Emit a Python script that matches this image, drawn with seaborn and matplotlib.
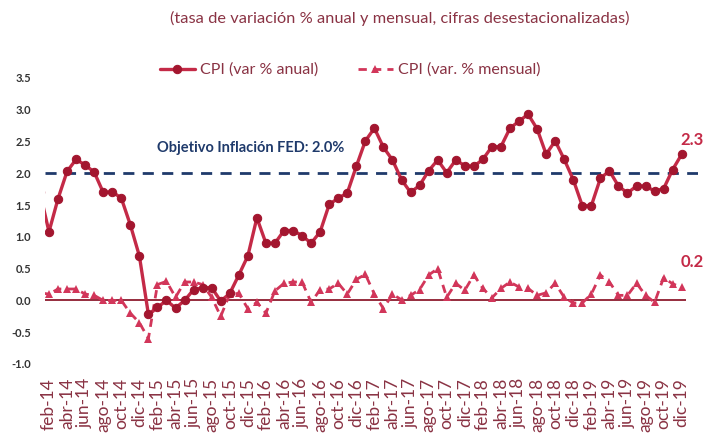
import matplotlib
matplotlib.use("Agg")
import matplotlib.pyplot as plt
import numpy as np
import pandas as pd
import seaborn as sns

months_es = ["ene", "feb", "mar", "abr", "may", "jun", "jul", "ago", "sep", "oct", "nov", "dic"]
years = ["14", "15", "16", "17", "18", "19"]
periods = [f"{m}-{y}" for y in years for m in months_es]

cpi_anual = [
    1.70, 1.08, 1.60, 2.03, 2.22, 2.13, 2.02, 1.70, 1.71, 1.61, 1.19, 0.70,
    -0.22, -0.11, 0.00, -0.12, 0.00, 0.17, 0.20, 0.20, -0.01, 0.11, 0.40, 0.70,
    1.30, 0.90, 0.90, 1.10, 1.10, 1.02, 0.90, 1.08, 1.51, 1.61, 1.69, 2.11,
    2.51, 2.71, 2.41, 2.21, 1.90, 1.70, 1.81, 2.04, 2.21, 2.01, 2.21, 2.12,
    2.11, 2.22, 2.42, 2.42, 2.71, 2.82, 2.93, 2.70, 2.30, 2.51, 2.22, 1.90,
    1.49, 1.49, 1.92, 2.04, 1.80, 1.69, 1.80, 1.80, 1.72, 1.76, 2.06, 2.30,
]
cpi_mensual = [
    0.12, 0.10, 0.18, 0.18, 0.18, 0.10, 0.08, 0.00, 0.00, 0.00, -0.20, -0.35,
    -0.60, 0.25, 0.30, 0.05, 0.29, 0.29, 0.25, 0.05, -0.25, 0.10, 0.11, -0.13,
    -0.03, -0.20, 0.15, 0.27, 0.29, 0.29, -0.03, 0.17, 0.18, 0.27, 0.10, 0.33,
    0.41, 0.10, -0.13, 0.10, 0.01, 0.08, 0.17, 0.40, 0.50, 0.05, 0.27, 0.16,
    0.40, 0.19, 0.04, 0.19, 0.29, 0.21, 0.19, 0.08, 0.12, 0.27, 0.05, -0.04,
    -0.04, 0.10, 0.40, 0.29, 0.08, 0.08, 0.27, 0.08, -0.03, 0.36, 0.26, 0.21,
]
fed_objetivo = 2.0
yticks = [-1.0, -0.5, 0.0, 0.5, 1.0, 1.5, 2.0, 2.5, 3.0, 3.5]

df = pd.DataFrame({
    "t": np.arange(len(periods)),
    "periodo": periods,
    "anual": cpi_anual,
    "mensual": cpi_mensual,
})

sns.set_style("white")
plt.rcParams["font.family"] = ["Lato", "DejaVu Sans"]

RED = "#C42A47"
DARKRED = "#A3162F"
PINK = "#D2365A"
NAVY = "#1F3A6B"
LABEL = "#8A3344"

fig = plt.figure(figsize=(7.05, 4.41), dpi=100)
ax = fig.add_axes([45 / 705, 1 - 364 / 441, (698 - 45) / 705, (364 - 78) / 441])

n = len(periods)
ax.hlines(0, 0.56, n - 0.5, color="#8E1B2E", lw=1.3, zorder=1)
ax.axhline(fed_objetivo, color=NAVY, lw=2.0, ls=(0, (4, 3)), zorder=2)

sns.lineplot(data=df, x="t", y="mensual", ax=ax, color=PINK, lw=2.0,
             marker="^", markersize=6, markeredgewidth=0, markerfacecolor=PINK,
             zorder=3, label="CPI (var. % mensual)")
ax.lines[-1].set_dashes((3, 2.2))
sns.lineplot(data=df, x="t", y="anual", ax=ax, color=RED, lw=2.4,
             marker="o", markersize=6, markerfacecolor=DARKRED,
             markeredgecolor=DARKRED, zorder=4, label="CPI (var % anual)")

ax.set_xlim(0.56, 72.8)
ax.set_ylim(-1.0, 3.5)
ax.set_xlabel("")
ax.set_ylabel("")
ax.set_yticks(yticks)
ax.set_yticklabels([f"{v:.1f}" for v in yticks], fontsize=8, color="#333333", fontweight="bold")
tick_idx = list(range(1, n, 2))
ax.set_xticks(tick_idx)
ax.set_xticklabels([periods[i] for i in tick_idx], rotation=90, fontsize=12.5, color=LABEL)
ax.tick_params(axis="y", length=0, pad=10)
ax.tick_params(axis="x", length=0, pad=10)
for s in ax.spines.values():
    s.set_visible(False)

ax.text(23.3, 2.40, "Objetivo Inflación FED: 2.0%", color=NAVY, fontsize=10.5,
        fontweight="bold", ha="center", va="center")
fig.text(704 / 705, 1 - 140 / 441, f"{cpi_anual[-1]:.1f}", color=RED, fontsize=12,
         fontweight="bold", ha="right", va="center")
fig.text(704 / 705, 1 - 262 / 441, f"{cpi_mensual[-1]:.1f}", color=RED, fontsize=12,
         fontweight="bold", ha="right", va="center")

handles, labels = ax.get_legend_handles_labels()
ax.get_legend().remove()
order = [1, 0]
fig.legend([handles[i] for i in order], [labels[i] for i in order],
           loc="center", bbox_to_anchor=(350 / 705, 1 - 70 / 441), ncol=2,
           frameon=False, fontsize=11.5, handlelength=2.2, columnspacing=2.5,
           handletextpad=0.3, labelcolor=LABEL)

fig.text(400 / 705, 1 - 18 / 441,
         "(tasa de variación % anual y mensual, cifras desestacionalizadas)",
         ha="center", va="center", fontsize=11.8, color=LABEL)

fig.savefig("out.png", dpi=100)
